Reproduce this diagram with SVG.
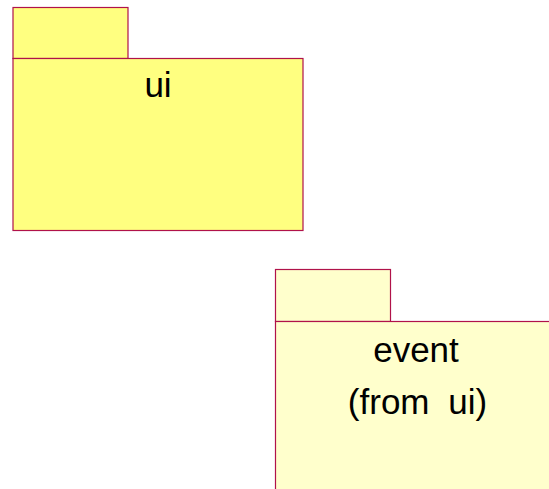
<svg xmlns="http://www.w3.org/2000/svg" width="549" height="489" viewBox="0 0 549 489">
<style>
.pk{stroke:#B0124A;stroke-width:1.2}
.ui{fill:#FFFF80}
.ev{fill:#FFFFCC}
.t{font-family:"Liberation Sans",Arial,sans-serif;font-size:35px;fill:#000;text-anchor:middle}
</style>
<rect width="549" height="489" fill="#fff"/>
<g id="ui">
<rect class="pk ui" x="13" y="7.5" width="115" height="51"/>
<rect class="pk ui" x="13" y="58.5" width="290" height="172"/>
<text class="t" x="158" y="97">ui</text>
</g>
<g id="event">
<rect class="pk ev" x="275.5" y="269.5" width="115" height="52"/>
<rect class="pk ev" x="275.5" y="321.5" width="284" height="180"/>
<text class="t" x="416" y="362">event</text>
<text class="t" x="417.5" y="414" word-spacing="9">(from ui)</text>
</g>
<g id="connectors"/>
</svg>
